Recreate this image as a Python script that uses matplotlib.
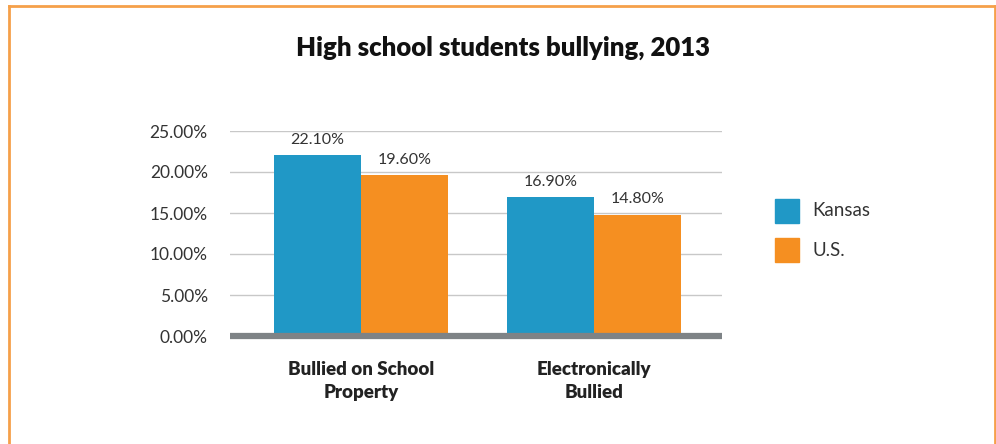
import matplotlib
matplotlib.use('Agg')
import matplotlib.pyplot as plt
from matplotlib.patches import Rectangle
from matplotlib.lines import Line2D

categories = ['Bullied on School\nProperty', 'Electronically\nBullied']
kansas = [22.10, 16.90]
us = [19.60, 14.80]
series_names = ['Kansas', 'U.S.']
yticks = [0, 5, 10, 15, 20, 25]

blue = '#2098C6'
orange = '#F58F21'
border = '#F5A04A'

plt.rcParams['font.family'] = ['Lato', 'DejaVu Sans']

W, H = 996, 444
fig = plt.figure(figsize=(W / 100, H / 100), dpi=100)

# axes box in pixels: x 230..722, y 131..336 (25% .. 0%)
ax = fig.add_axes([230 / W, 1 - 336 / H, 492 / W, 205 / H])

x = [0, 1]
bw = 0.373
b1 = ax.bar([i - bw / 2 for i in x], kansas, width=bw, color=blue, zorder=3, label=series_names[0])
b2 = ax.bar([i + bw / 2 for i in x], us, width=bw, color=orange, zorder=3, label=series_names[1])

for bars, vals in ((b1, kansas), (b2, us)):
    for r, v in zip(bars, vals):
        ax.text(r.get_x() + r.get_width() / 2, v + 1.0, f'{v:.2f}%', ha='center', va='bottom',
                fontsize=11.5, color='#333333', zorder=4)

ax.set_xlim(-0.562, 1.549)
ax.set_ylim(0, 25)
ax.set_yticks(yticks)
ax.set_yticklabels([f'{t:.2f}%' for t in yticks], fontsize=12.5, color='#333333')
ax.set_xticks(x)
ax.set_xticklabels(categories, fontsize=13.5, fontweight='heavy', color='#222222', linespacing=1.4)
ax.tick_params(axis='both', length=0)
ax.tick_params(axis='y', pad=16)
ax.tick_params(axis='x', pad=18)
ax.grid(axis='y', color='#C8C8C8', linewidth=1, zorder=0)
for s in ax.spines.values():
    s.set_visible(False)
ax.axhline(0, color='#7E8386', linewidth=4.5, zorder=5, solid_capstyle='butt', clip_on=False)

fig.text(503 / W, 1 - 48 / H, 'High school students bullying, 2013', ha='center', va='center',
         fontsize=18.5, fontweight='heavy', color='#111111')

# legend
lx = 775
for i, (name, c) in enumerate(zip(series_names, [blue, orange])):
    y0 = 199 + i * 39
    fig.patches.append(Rectangle((lx / W, 1 - (y0 + 24) / H), 24 / W, 24 / H,
                                 transform=fig.transFigure, color=c, figure=fig))
    fig.text(812 / W, 1 - (y0 + 12) / H, name, ha='left', va='center', fontsize=13.5, color='#333333')

# orange frame: top, left, right
fig.lines.append(Line2D([8.5 / W, 8.5 / W], [0, 1 - 6.5 / H], transform=fig.transFigure, color=border, linewidth=2))
fig.lines.append(Line2D([8.5 / W, 995 / W], [1 - 6.5 / H, 1 - 6.5 / H], transform=fig.transFigure, color=border, linewidth=2))
fig.lines.append(Line2D([995 / W, 995 / W], [0, 1 - 6.5 / H], transform=fig.transFigure, color=border, linewidth=2))

fig.savefig('out.png', dpi=100)
